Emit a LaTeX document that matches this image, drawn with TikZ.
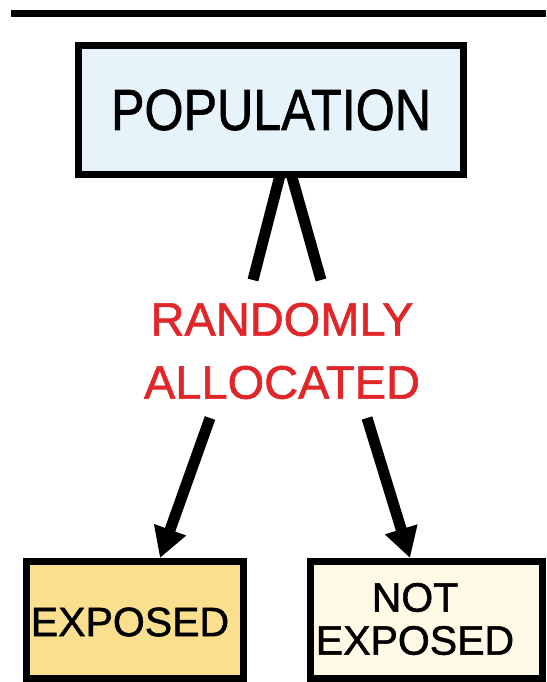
\documentclass[tikz,border=0pt]{standalone}
\usepackage{fontspec}
\usepackage{graphicx}
\setmainfont{Liberation Sans}[FakeBold=1.3]
\usetikzlibrary{arrows.meta,calc}
\pgfdeclarelayer{background}
\pgfsetlayers{background,main}

\definecolor{popfill}{HTML}{E6F3FB}
\definecolor{expfill}{HTML}{FADF8F}
\definecolor{notfill}{HTML}{FEFAE6}
\definecolor{allocred}{HTML}{E1262A}

\tikzset{
  boxnode/.style={draw=black, line width=7pt, inner sep=0pt, outer sep=0pt},
  stroke/.style={line width=11pt, black},
  arrowline/.style={line width=11pt, black, -{Triangle[length=30pt,width=32pt]}},
}

\begin{document}
\begin{tikzpicture}[x=1pt,y=-1pt]
  \useasboundingbox (0,0) rectangle (546,682);

  % rule across the top
  \coordinate (ruleL) at (11,13.5);
  \coordinate (ruleR) at (546,13.5);
  \draw[line width=7pt] (ruleL) -- (ruleR);

  % population box
  \node[boxnode, fill=popfill, minimum width=385pt, minimum height=129pt,
        font=\fontsize{58}{60}\selectfont] (pop) at (271,110)
        {\raisebox{-2.5pt}{\scalebox{0.866}[1]{POPULATION}}};

  % label between the two stages
  \node[text=allocred, align=center, inner sep=0pt,
        font=\fontsize{47}{63}\selectfont] (alloc) at (282,351)
        {RANDOMLY\\ALLOCATED};

  % outcome groups
  \node[boxnode, fill=expfill, minimum width=217pt, minimum height=117pt] (exp) at (135,620) {};
  \node[font=\fontsize{41}{43}\selectfont, inner sep=0pt] (expt) at (130,622) {EXPOSED};

  \node[boxnode, fill=notfill, minimum width=232pt, minimum height=117pt] (notexp) at (426.5,620) {};
  \node[font=\fontsize{41}{43}\selectfont, align=center, inner sep=0pt] (notexpt) at (415,619) {NOT\\EXPOSED};

  % split below the population box
  \coordinate (apex) at (285.5,154);
  \coordinate (splitL) at (253,280);
  \coordinate (splitR) at (321,280);
  \begin{pgfonlayer}{background}
    \draw[stroke, line join=miter] (splitL) -- (apex) -- (splitR);
  \end{pgfonlayer}

  % arrows to the two groups
  \coordinate (arrL) at (210,418);
  \coordinate (arrR) at (367,418);
  \draw[arrowline] (arrL) -- ([xshift=25pt,yshift=3.5pt]exp.north);
  \draw[arrowline] (arrR) -- ([xshift=-16.5pt,yshift=3.5pt]notexp.north);
\end{tikzpicture}
\end{document}
